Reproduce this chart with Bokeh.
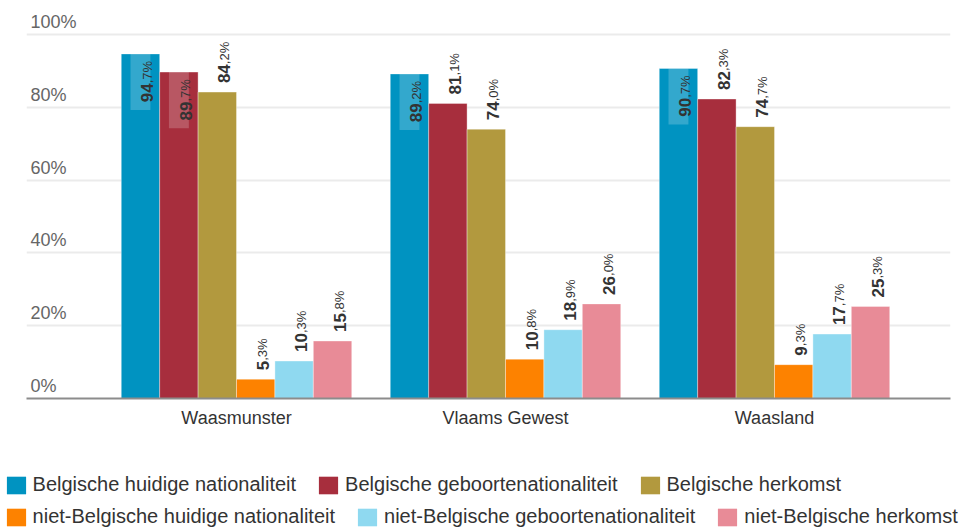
import math
from bokeh.plotting import figure
from bokeh.layouts import column
from bokeh.models import Range1d, FixedTicker, Legend, LegendItem, Label, ColumnDataSource
from bokeh.core.properties import value
from bokeh.embed import file_html
from bokeh.resources import INLINE

# ---- data ----
regions = ["Waasmunster", "Vlaams Gewest", "Waasland"]
series_names = [
    "Belgische huidige nationaliteit",
    "Belgische geboortenationaliteit",
    "Belgische herkomst",
    "niet-Belgische huidige nationaliteit",
    "niet-Belgische geboortenationaliteit",
    "niet-Belgische herkomst",
]
belg_huidig = [94.7, 89.2, 90.7]
belg_geboorte = [89.7, 81.1, 82.3]
belg_herkomst = [84.2, 74.0, 74.7]
niet_huidig = [5.3, 10.8, 9.3]
niet_geboorte = [10.3, 18.9, 17.7]
niet_herkomst = [15.8, 26.0, 25.3]
y_ticks = [0, 20, 40, 60, 80, 100]

series_values = [belg_huidig, belg_geboorte, belg_herkomst,
                 niet_huidig, niet_geboorte, niet_herkomst]
colors = ["#0093c1", "#a72e3d", "#b2993e", "#fd8200", "#8fd9f0", "#e88b97"]

FONT = "Liberation Sans"
BAR_W = 0.1428
BIG_PX = 17
SMALL_PX = 13

p = figure(frame_width=924, frame_height=393,
           min_border_left=26, min_border_right=12, min_border_top=5, min_border_bottom=42,
           x_range=Range1d(-0.7807, 2.6543), y_range=Range1d(0, 108),
           output_backend="svg", toolbar_location=None, y_axis_location=None)
p.outline_line_color = None
p.xgrid.visible = False
p.ygrid.ticker = FixedTicker(ticks=y_ticks)
p.ygrid.grid_line_color = "#ebebeb"
p.ygrid.grid_line_width = 2

ax = p.xaxis[0]
ax.ticker = FixedTicker(ticks=list(range(len(regions))))
ax.major_label_overrides = {i: r for i, r in enumerate(regions)}
ax.major_tick_line_color = None
ax.minor_tick_line_color = None
ax.axis_line_color = "#8c8c8c"
ax.axis_line_width = 2
ax.major_label_text_font = FONT
ax.major_label_text_font_size = "18px"
ax.major_label_text_color = "#333333"
ax.major_label_standoff = 3

lab_in = dict(x=[], y=[], big=[], small=[], yo_big=[])
lab_out = dict(x=[], y=[], big=[], small=[], yo_small=[])
for i, (vals, col) in enumerate(zip(series_values, colors)):
    xs = [k + (i - 2.5) * BAR_W for k in range(len(regions))]
    p.vbar(x=xs, top=vals, width=BAR_W, bottom=0, fill_color=col,
           line_color="white", line_alpha=0.35, line_width=1)
    for x, v in zip(xs, vals):
        a, b = f"{v:.1f}".split(".")
        big_w = len(a) * 0.556 * BIG_PX
        small = "," + b + "%"
        if v > 86:
            lab_in["x"].append(x); lab_in["y"].append(v)
            lab_in["big"].append(a); lab_in["small"].append(small)
            lab_in["yo_big"].append(7 + 1.723 * SMALL_PX)
        else:
            lab_out["x"].append(x); lab_out["y"].append(v)
            lab_out["big"].append(a); lab_out["small"].append(small)
            lab_out["yo_small"].append(-(9 + big_w))

src_in = ColumnDataSource(lab_in)
src_out = ColumnDataSource(lab_out)

# highlight boxes behind inside labels
p.quad(left=[x - 0.037 for x in lab_in["x"]], right=[x + 0.037 for x in lab_in["x"]],
       top=lab_in["y"], bottom=[y - 15.4 for y in lab_in["y"]],
       fill_color="white", fill_alpha=0.2, line_color=None)

common = dict(angle=math.pi / 2, text_baseline="alphabetic", x_offset=7,
              text_font=value(FONT), text_color="#333333")
p.text(x="x", y="y", text="big", source=src_out, text_align="left", y_offset=-9,
       text_font_style="bold", text_font_size=f"{BIG_PX}px", **common)
p.text(x="x", y="y", text="small", source=src_out, text_align="left", y_offset="yo_small",
       text_font_size=f"{SMALL_PX}px", **common)
p.text(x="x", y="y", text="small", source=src_in, text_align="right", y_offset=7,
       text_font_size=f"{SMALL_PX}px", **common)
p.text(x="x", y="y", text="big", source=src_in, text_align="right", y_offset="yo_big",
       text_font_style="bold", text_font_size=f"{BIG_PX}px", **common)

for t in y_ticks:
    p.add_layout(Label(x=4, x_units="screen", y=t, y_units="data", text=f"{t}%",
                       text_baseline="middle", y_offset=12.5,
                       text_font=FONT, text_font_size="18px", text_color="#666666"))

# ---- legend strip (separate figure under the chart) ----
pl = figure(frame_width=960, frame_height=87, min_border=0,
            x_range=Range1d(0, 1), y_range=Range1d(0, 1),
            output_backend="svg", toolbar_location=None,
            x_axis_location=None, y_axis_location=None)
pl.outline_line_color = None
pl.grid.visible = False
# zero-size swatch renderers (needed so the legend can draw its colour squares)
swatches = [pl.vbar(x=[0], top=[0], bottom=[0], width=0, fill_color=c, line_color=None)
            for c in colors]

items = [LegendItem(label=n, renderers=[r]) for n, r in zip(series_names, swatches)]
leg_kw = dict(orientation="horizontal", glyph_width=24, glyph_height=22, label_height=22,
              label_standoff=5, spacing=20, padding=0, margin=0,
              border_line_color=None, background_fill_alpha=0,
              label_text_font=FONT, label_text_font_size="20px", label_text_color="#333333")
pl.add_layout(Legend(items=items[:3], location=(3.6, 31), **leg_kw))
pl.add_layout(Legend(items=items[3:], location=(3.6, -1), **leg_kw))

layout = column(p, pl, spacing=0)
open("out.html", "w").write(file_html(layout, INLINE))
